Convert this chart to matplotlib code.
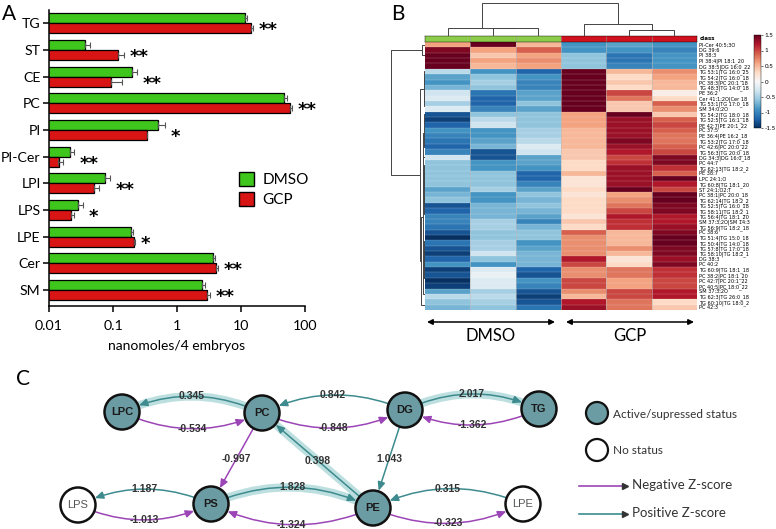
import numpy as np
import matplotlib
matplotlib.use("Agg")
import matplotlib.pyplot as plt
from matplotlib.patches import Circle, FancyArrowPatch, Patch

plt.rcParams['font.family'] = ['Lato', 'DejaVu Sans']

W, H = 776, 529

# ---------------- Panel A: lipid classes (nanomoles / 4 embryos)
lipid_classes = ["TG", "ST", "CE", "PC", "PI", "PI-Cer", "LPI", "LPS", "LPE", "Cer", "SM"]
dmso_mean = [11.5, 0.037, 0.20, 47.0, 0.50, 0.021, 0.075, 0.028, 0.19, 3.6, 2.45]
gcp_mean = [14.4, 0.12, 0.093, 58.0, 0.34, 0.014, 0.050, 0.022, 0.21, 4.1, 2.95]
dmso_sem = [0.9, 0.007, 0.04, 5.0, 0.16, 0.0033, 0.015, 0.0055, 0.016, 0.3, 0.28]
gcp_sem = [1.1, 0.029, 0.045, 5.0, 0.0, 0.0024, 0.0115, 0.0028, 0.0085, 0.25, 0.3]
signif = ["**", "**", "**", "**", "*", "**", "**", "*", "*", "**", "**"]

# ---------------- Panel B: z-scored lipid species (DMSO x3, GCP x3)
features = [
    "PI-Cer 40:5;3O", "DG 39:6", "PI 38:3", "PI 38:4|PI 18:1_20", "DG 38:5|DG 16:0_22",
    "TG 53:1|TG 16:0_25", "TG 54:2|TG 16:0_18", "PC 38:3|PC 20:1_18", "TG 48:3|TG 14:0_18",
    "PE 36:2", "Cer 41:1;2O|Cer 18", "TG 53:1|TG 17:0_18", "SM 34:0;2O",
    "TG 54:2|TG 18:0_18", "TG 52:5|TG 16:1_18", "PE 42:7|PE 20:1_22", "PC 37:5",
    "PE 36:4|PE 16:2_18", "TG 53:2|TG 17:0_18", "PC 42:6|PC 20:0_22", "TG 56:3|TG 20:0_18",
    "DG 34:3|DG 16:0_18", "PC 44:7", "TG 62:13|TG 18:2_2", "PE 38:7", "LPC 24:1;O",
    "TG 60:8|TG 18:1_20", "ST 24:1;O2;T", "PC 38:1|PC 20:0_18", "TG 62:14|TG 18:2_2",
    "TG 52:5|TG 16:0_18", "TG 58:11|TG 18:2_1", "TG 56:4|TG 18:1_20", "SM 37:3;2O|SM 14:3",
    "TG 56:9|TG 18:2_18", "PC 38:6", "TG 51:4|TG 15:0_18", "TG 50:4|TG 14:0_18",
    "TG 57:8|TG 17:0_18", "TG 58:10|TG 18:2_1", "DG 38:3", "PC 40:2",
    "TG 60:9|TG 18:1_18", "PC 38:2|PC 18:1_20", "PC 42:7|PC 20:1_22", "PC 40:5|PC 18:0_22",
    "SM 37:3;2O", "TG 62:3|TG 26:0_18", "TG 60:10|TG 18:0_2", "PC 42:3",
]
samples = ["DMSO", "DMSO", "DMSO", "GCP", "GCP", "GCP"]
z_scores = [
    [0.6, 1.5, 0.5, -0.9, -0.8, -0.9],
    [1.4, 0.6, 0.9, -0.9, -0.9, -1.0],
    [1.5, 0.4, 0.6, -0.6, -1.1, -0.9],
    [1.5, 0.6, 0.7, -0.6, -1.1, -0.9],
    [1.5, 0.5, 0.6, -0.6, -1.0, -0.9],
    [-0.4, -0.9, -1.2, 1.5, 0.5, 0.7],
    [-0.8, -0.6, -0.9, 1.5, 0.3, 0.6],
    [-0.9, -0.5, -1.0, 1.5, 0.4, 0.5],
    [-0.7, -0.6, -1.0, 1.5, 0.3, 0.5],
    [-0.3, -1.1, -0.8, 1.5, 1.0, 0.1],
    [-0.2, -1.2, -0.8, 1.5, 0.8, 0.3],
    [-0.5, -1.2, -0.6, 1.5, 0.4, 0.9],
    [-0.2, -1.0, -0.8, 1.5, 0.4, 0.7],
    [-1.3, -0.6, -0.6, 0.6, 1.5, 0.4],
    [-1.4, -0.4, -0.6, 0.6, 1.3, 0.9],
    [-1.2, -0.3, -0.6, 0.6, 1.3, 1.0],
    [-0.9, -0.9, -0.5, 0.5, 1.3, 0.9],
    [-1.0, -0.9, -0.5, 0.5, 1.3, 0.8],
    [-1.1, -0.8, -0.4, 0.5, 1.4, 0.8],
    [-1.2, -0.7, -0.2, 0.5, 1.3, 0.9],
    [-1.0, -1.3, -0.3, 0.4, 1.2, 1.0],
    [-0.3, -1.3, -0.8, 0.4, 1.0, 1.4],
    [-0.6, -0.9, -0.8, 0.3, 1.1, 1.4],
    [-0.6, -0.9, -0.9, 0.3, 1.3, 1.1],
    [-0.6, -0.6, -1.2, 0.5, 1.3, 0.9],
    [-0.6, -0.6, -1.2, 0.2, 1.3, 1.5],
    [-0.6, -0.6, -1.0, 0.2, 1.3, 1.2],
    [-0.8, -0.5, -0.8, 0.3, 1.5, 1.0],
    [-0.7, -0.9, -0.6, 0.2, 0.6, 1.5],
    [-0.6, -0.9, -0.7, 0.3, 0.7, 1.5],
    [-1.3, -0.7, -0.6, 0.3, 0.8, 1.4],
    [-1.2, -0.7, -0.7, 0.3, 1.0, 1.4],
    [-1.0, -0.7, -0.8, 0.2, 1.2, 1.2],
    [-1.0, -0.5, -1.0, 0.4, 1.1, 1.2],
    [-1.1, -0.5, -0.7, 0.3, 1.1, 1.3],
    [-1.3, -0.6, -0.6, 0.9, 0.5, 1.4],
    [-1.5, -0.6, -0.6, 0.7, 0.5, 1.5],
    [-1.1, -0.5, -0.9, 0.7, 0.5, 1.5],
    [-1.3, -0.5, -0.8, 0.7, 0.7, 1.4],
    [-1.4, -0.3, -0.7, 0.7, 0.5, 1.4],
    [-1.2, -0.6, -0.7, 1.2, 0.2, 1.3],
    [-0.9, -0.9, -0.7, 1.0, 0.3, 1.4],
    [-1.4, -0.2, -1.2, 0.7, 0.8, 1.1],
    [-1.3, -0.1, -1.3, 0.7, 0.8, 1.1],
    [-1.5, -0.2, -0.9, 1.0, 0.6, 1.0],
    [-1.4, -0.2, -1.0, 1.0, 0.6, 1.0],
    [-0.8, -0.5, -1.3, 0.7, 1.0, 1.2],
    [-0.4, -0.4, -1.4, 0.5, 1.0, 1.2],
    [-0.6, -0.5, -1.3, 1.2, 0.8, 0.3],
    [-0.7, -0.6, -1.1, 1.3, 0.8, 0.4],
]

# ---------------- Panel C: lipid class network (z-scores on edges)
node_pos = {"LPC": (122, 412), "PC": (262, 413), "DG": (405, 410), "TG": (539, 409),
            "LPS": (78, 505), "PS": (211, 504), "PE": (373, 508), "LPE": (523, 504)}
active_nodes = ["LPC", "PC", "DG", "TG", "PS", "PE"]
edges = [("PC", "LPC", 0.345), ("LPC", "PC", -0.534), ("DG", "PC", 0.842),
         ("PC", "DG", -0.848), ("DG", "TG", 2.017), ("TG", "DG", -1.362),
         ("PC", "PS", -0.997), ("PE", "PC", 0.398), ("DG", "PE", 1.043),
         ("PS", "LPS", 1.187), ("LPS", "PS", -1.013), ("PS", "PE", 1.828),
         ("PE", "PS", -1.324), ("LPE", "PE", 0.315), ("PE", "LPE", -0.323)]
highlighted = [("PC", "LPC"), ("DG", "TG"), ("PE", "PC"), ("PS", "PE")]

GREEN, RED = "#3fc61c", "#d81414"
TEAL, PURPLE = "#3d8b8e", "#9b45b6"
NODE = "#6c9ca3"

fig = plt.figure(figsize=(W / 100, H / 100), dpi=100)


def px_axes(x, y, w, h, **kw):
    return fig.add_axes([x / W, 1 - (y + h) / H, w / W, h / H], **kw)


# ================= A =================
axA = px_axes(49, 10, 256, 296)
ypos = np.arange(len(lipid_classes))
bh = 0.37
axA.barh(ypos - bh / 2, dmso_mean, height=bh, left=1e-4, color=GREEN, edgecolor="black", lw=0.9)
axA.barh(ypos + bh / 2, gcp_mean, height=bh, left=1e-4, color=RED, edgecolor="black", lw=0.9)
axA.errorbar(dmso_mean, ypos - bh / 2, xerr=[np.zeros(len(ypos)), dmso_sem], fmt="none",
             ecolor="#555", elinewidth=0.8, capsize=2, capthick=0.8)
axA.errorbar(gcp_mean, ypos + bh / 2, xerr=[np.zeros(len(ypos)), gcp_sem], fmt="none",
             ecolor="#555", elinewidth=0.8, capsize=2, capthick=0.8)
for i, s in enumerate(signif):
    end = max(dmso_mean[i] + dmso_sem[i], gcp_mean[i] + gcp_sem[i])
    axA.annotate(s, xy=(end, i), xytext=(4, -5), textcoords="offset points",
                 ha="left", va="center", fontsize=13, fontweight="bold", family="DejaVu Sans")
axA.set_xscale("log")
axA.set_xlim(0.01, 100)
axA.set_ylim(10.6, -0.5)
axA.set_xticks([0.01, 0.1, 1, 10, 100])
axA.set_xticklabels(["0.01", "0.1", "1", "10", "100"])
axA.minorticks_off()
axA.set_yticks(ypos)
axA.set_yticklabels(lipid_classes)
axA.tick_params(axis="y", labelsize=10.2, width=1.1, length=4, pad=2)
axA.tick_params(axis="x", labelsize=10.2, width=1.1, length=4, pad=6)
axA.set_xlabel("nanomoles/4 embryos", fontsize=10, labelpad=6)
for side in ["top", "right"]:
    axA.spines[side].set_visible(False)
for side in ["left", "bottom"]:
    axA.spines[side].set_linewidth(1.1)
axA.legend(handles=[Patch(fc=GREEN, ec="black", label="DMSO"), Patch(fc=RED, ec="black", label="GCP")],
           loc="upper left", bbox_to_anchor=(239 / W, 1 - 172 / H), bbox_transform=fig.transFigure,
           frameon=False, fontsize=11, handlelength=1.0, handleheight=1.0, labelspacing=0.35,
           handletextpad=0.55, borderpad=0, borderaxespad=0)


# ================= B =================
def contiguous_linkage(X):
    """Average linkage on 1 - correlation, merging only neighbours so the order is kept."""
    dist = 1 - np.corrcoef(X)
    groups = [([i], i + 0.5, 0.0) for i in range(len(X))]
    links = []
    while len(groups) > 1:
        gaps = [dist[np.ix_(groups[k][0], groups[k + 1][0])].mean() for k in range(len(groups) - 1)]
        k = int(np.argmin(gaps))
        (ma, pa, ha), (mb, pb, hb) = groups[k], groups[k + 1]
        h = max(gaps[k], ha, hb)
        links.append((pa, pb, ha, hb, h))
        groups[k:k + 2] = [(ma + mb, (pa + pb) / 2, h)]
    return links


Z = np.array(z_scores)
nrow, ncol = Z.shape

axH = px_axes(425, 42, 272, 268)
im = axH.imshow(Z, cmap="RdBu_r", vmin=-1.5, vmax=1.5, aspect="auto",
                extent=(0, ncol, nrow, 0), interpolation="nearest")
axH.hlines(np.arange(1, nrow), 0, ncol, color="white", lw=0.25, alpha=0.5)
axH.vlines(np.arange(1, ncol), 0, nrow, color="#bbbbbb", lw=0.4)
axH.set_xticks([])
axH.yaxis.tick_right()
axH.set_yticks(np.arange(nrow) + 0.5)
axH.set_yticklabels(features, fontsize=3.6, family="DejaVu Sans")
axH.tick_params(axis="y", length=0, pad=1.5)
for sp in axH.spines.values():
    sp.set_visible(False)

axCls = px_axes(425, 36, 272, 6)
cls_rgb = np.array([[matplotlib.colors.to_rgb("#8ccc4a" if s == "DMSO" else "#d0121e") for s in samples]])
axCls.imshow(cls_rgb, aspect="auto", extent=(0, ncol, 1, 0))
axCls.vlines(np.arange(1, ncol), 0, 1, color="#999", lw=0.4)
axCls.set_xticks([])
axCls.set_yticks([])
for sp in axCls.spines.values():
    sp.set_linewidth(0.3)
axCls.text(ncol + 0.05, 0.5, "class", fontsize=4, va="center", ha="left", family="DejaVu Sans",
           fontweight="bold")

axRD = px_axes(390, 42, 35, 268)
row_links = contiguous_linkage(Z)
for pa, pb, ha, hb, h in row_links:
    axRD.plot([ha, h, h, hb], [pa, pa, pb, pb], color="#444", lw=0.7)
axRD.set_ylim(nrow, 0)
axRD.set_xlim(max(l[4] for l in row_links) * 1.03, 0)
axRD.axis("off")

axCD = px_axes(425, 2, 272, 34)
col_links = contiguous_linkage(Z.T)
for pa, pb, ha, hb, h in col_links:
    axCD.plot([pa, pa, pb, pb], [ha, h, h, hb], color="#444", lw=0.7)
axCD.set_xlim(0, ncol)
axCD.set_ylim(0, max(l[4] for l in col_links) * 1.03)
axCD.axis("off")

cax = px_axes(754, 35, 7, 93)
cb = fig.colorbar(im, cax=cax, ticks=[1.5, 1, 0.5, 0, -0.5, -1, -1.5])
cb.ax.set_yticklabels(["1.5", "1", "0.5", "0", "-0.5", "-1", "-1.5"])
cb.ax.tick_params(labelsize=4.5, length=1.5, width=0.4, pad=1)
cb.outline.set_linewidth(0.3)

# ================= overlay: letters, arrows, network =================
ov = fig.add_axes([0, 0, 1, 1], zorder=10)
ov.set_xlim(0, W)
ov.set_ylim(H, 0)
ov.axis("off")
ov.patch.set_alpha(0)

ov.text(2, 4, "A", fontsize=15, va="top", ha="left")
ov.text(391, 4, "B", fontsize=15, va="top", ha="left")
ov.text(16, 369, "C", fontsize=15, va="top", ha="left")

for x0, x1, lab in [(427, 555, "DMSO"), (566, 694, "GCP")]:
    ov.annotate("", xy=(x1, 322), xytext=(x0, 322),
                arrowprops=dict(arrowstyle="<|-|>", color="black", lw=1.1, mutation_scale=8,
                                shrinkA=0, shrinkB=0))
    ov.text((x0 + x1) / 2, 336, lab, fontsize=12, ha="center", va="center")

R = 17.5
shrink = R * 0.72 + 0.5
pairs = {(a, b) for a, b, _ in edges}
for a, b, w in edges:
    (xa, ya), (xb, yb) = node_pos[a], node_pos[b]
    dx, dy = xb - xa, yb - ya
    rad = 0.0
    if (b, a) in pairs:
        # positive edges bend upward, negative edges downward
        rad = -np.sign(dx) * 0.23 if w > 0 else np.sign(dx) * 0.23
    style = f"arc3,rad={rad}"
    color = TEAL if w > 0 else PURPLE
    if (a, b) in highlighted:
        ov.add_patch(FancyArrowPatch((xa, ya), (xb, yb), connectionstyle=style, arrowstyle="-",
                                     color="#b7dcdd", lw=6, shrinkA=shrink, shrinkB=shrink,
                                     zorder=2, alpha=0.9))
    ov.add_patch(FancyArrowPatch((xa, ya), (xb, yb), connectionstyle=style,
                                 arrowstyle="-|>,head_length=0.5,head_width=0.22", mutation_scale=10,
                                 color=color, lw=1.1, shrinkA=shrink, shrinkB=shrink, zorder=3))
    lx = (xa + xb) / 2 - 0.5 * rad * dy
    ly = (ya + yb) / 2 + 0.5 * rad * dx
    ov.text(lx, ly, f"{w:.3f}", fontsize=7.5, color="#333", ha="center", va="center",
            family="Liberation Sans", fontweight="bold", zorder=5)

for name, (x, y) in node_pos.items():
    on = name in active_nodes
    ov.add_patch(Circle((x, y), R, fc=NODE if on else "white", ec="#111", lw=1.8, zorder=4))
    ov.text(x, y, name, fontsize=8, ha="center", va="center", zorder=5, family="Liberation Sans",
            fontweight="bold" if on else "normal", color="#1a1a1a" if on else "#555")

# network legend
ov.add_patch(Circle((597, 413), 11, fc=NODE, ec="#111", lw=1.6, zorder=4))
ov.text(613, 414, "Active/supressed status", fontsize=8.5, va="center", color="#333")
ov.add_patch(Circle((597, 450), 11, fc="white", ec="#111", lw=1.6, zorder=4))
ov.text(613, 451, "No status", fontsize=8.5, va="center", color="#333")
for yy, col, lab in [(486, PURPLE, "Negative Z-score"), (514, TEAL, "Positive Z-score")]:
    ov.plot([579, 624], [yy, yy], color=col, lw=1.2)
    ov.plot([625], [yy], marker=">", ms=4.5, color="#333")
    ov.text(632, yy - 1, lab, fontsize=9.5, va="center", color="#333")

fig.savefig("out.png", dpi=100)
